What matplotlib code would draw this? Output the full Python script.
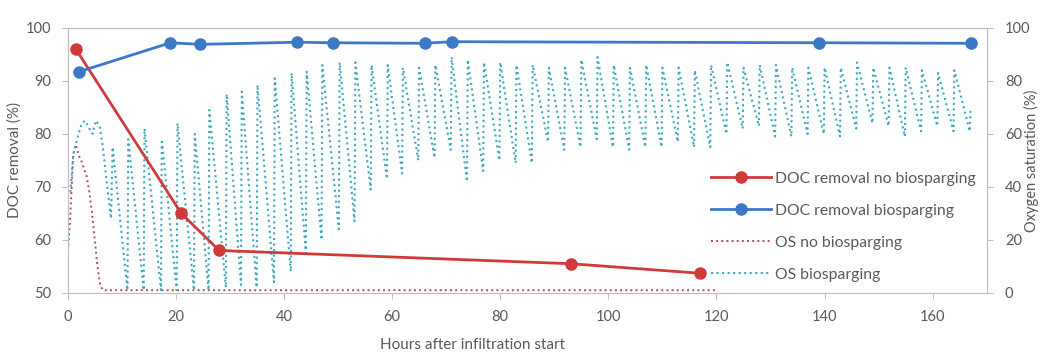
import numpy as np
import matplotlib
matplotlib.use("Agg")
import matplotlib.pyplot as plt

plt.rcParams["font.family"] = ["Lato", "DejaVu Sans"]

# DOC removal (%) sampled by hand, left axis
doc_no_bio_t = [1.5, 21, 28, 93, 117]
doc_no_bio = [96.0, 65.0, 58.0, 55.5, 53.7]
doc_bio_t = [2, 19, 24.5, 42.5, 49, 66, 71, 139, 167]
doc_bio = [91.7, 97.2, 96.9, 97.3, 97.2, 97.1, 97.4, 97.2, 97.1]

# oxygen saturation (%) without biosparging, right axis
os_no_bio_t = [0, 0.5, 1.0, 1.5, 2.0, 2.5, 3.0, 3.5, 4.0, 4.5, 5.0, 5.5, 6.0, 6.5, 120]
os_no_bio = [14, 30, 52, 56, 52, 50, 47, 44, 38, 30, 20, 10, 3, 1, 1]

# oxygen saturation with biosparging: start-up phase, then aeration cycles
os_bio_start_t = [0.5, 1.0, 2.0, 2.6, 3.2, 4.0, 4.6, 5.2, 5.9, 6.5, 7.2, 8.0]
os_bio_start = [38, 52, 60, 64, 65, 62, 60, 65, 63, 55, 42, 28]
cycle_t = [8.3, 11.2, 14.2, 17.4, 20.3, 23.5, 26.2, 29.4, 32.2, 35.1, 38.3, 41.4,
           44.2, 47.1, 50.3, 53.2, 56.2, 59.2, 62.0, 65.0, 68.0, 71.0, 74.0, 77.0,
           80.0, 83.0, 86.0, 89.0, 92.0, 95.0, 98.0, 101.0, 104.0, 107.0, 110.0,
           113.0, 116.0, 119.0, 122.0, 125.0, 128.0, 131.0, 134.0, 137.0, 140.0,
           143.0, 146.0, 149.0, 152.0, 155.0, 158.0, 161.0, 164.0]
cycle_peak = [55, 58, 62, 58, 64, 60, 69, 75, 76, 78.5, 81, 83, 83.5, 86, 87, 87,
              86, 86, 85, 85, 86, 89, 88, 87, 87, 86, 86, 85, 85, 88, 89, 86, 85,
              86, 85, 85, 84, 86, 87, 85, 86, 86, 85, 85, 85, 85, 87, 85, 85, 85,
              84, 83, 84]
cycle_low = [1, 1, 1, 1, 1, 1, 2, 3, 2, 4, 8, 15, 20, 24, 27, 39, 43, 45, 50, 51,
             54, 42, 46, 50, 49, 49, 57, 54, 55, 58, 55, 54, 55, 55, 57, 55, 55, 60,
             62, 63, 59, 59, 60, 60, 59, 62, 64, 63, 59, 61, 63, 61, 61]
os_bio_end_t = [167]
os_bio_end = [69]

# sawtooth: jump to the peak, then decay to the low just before the next jump
low_t = list(cycle_t[1:]) + os_bio_end_t
low_t = [t - 0.15 for t in low_t]
saw_t = np.column_stack([cycle_t, low_t]).ravel()
saw_v = np.column_stack([cycle_peak, cycle_low]).ravel()
os_bio_t = np.concatenate([os_bio_start_t, saw_t, os_bio_end_t])
os_bio = np.concatenate([os_bio_start, saw_v, os_bio_end])

red = "#d03a3a"
blue = "#3b78c6"
cyan = "#3ea8bf"
os_red = "#b04a63"
grey = "#595959"
spine = "#bfbfbf"

fig = plt.figure(figsize=(10.42, 3.58), dpi=100)
ax2 = fig.add_axes([0.065, 0.182, 0.882, 0.74])
ax = ax2.twinx()

# OS on the right axis, drawn underneath
ax2.yaxis.tick_right()
ax2.yaxis.set_label_position("right")
l3, = ax2.plot(os_no_bio_t, os_no_bio, ls=":", lw=1.4, color=os_red, label="OS no biosparging")
l4, = ax2.plot(os_bio_t, os_bio, ls=":", lw=1.5, color=cyan, label="OS biosparging")
ax2.set_ylim(0, 100)
ax2.set_yticks([0, 20, 40, 60, 80, 100])
ax2.set_ylabel("Oxygen saturation (%)", color=grey, fontsize=10.5)
ax2.yaxis.set_label_coords(1.04, 0.5)

# DOC removal on the left axis, on top
ax.yaxis.tick_left()
ax.yaxis.set_label_position("left")
l1, = ax.plot(doc_no_bio_t, doc_no_bio, "-o", color=red, lw=2, ms=8, label="DOC removal no biosparging")
l2, = ax.plot(doc_bio_t, doc_bio, "-o", color=blue, lw=2, ms=8, label="DOC removal biosparging")
ax.set_ylim(50, 100)
ax.set_yticks([50, 60, 70, 80, 90, 100])
ax.set_ylabel("DOC removal (%)", color=grey, fontsize=11, labelpad=3)
ax.set_xlim(0, 170)
ax2.set_xlim(0, 170)
ax2.set_xticks(range(0, 170, 20))
ax2.set_xlabel("Hours after infiltration start", color=grey, fontsize=11, labelpad=4)
ax2.xaxis.set_label_coords(0.44, -0.17)

for a in (ax, ax2):
    for s in a.spines.values():
        s.set_color(spine)
    a.tick_params(colors=spine, labelcolor=grey, labelsize=10.5, length=4, width=0.8)
ax.tick_params(axis="y", pad=8)
ax2.tick_params(axis="y", pad=9)
ax2.tick_params(axis="x", pad=8)

leg = ax.legend(handles=[l1, l2, l3, l4], loc="lower right", bbox_to_anchor=(1.0, 0.0),
                frameon=False, fontsize=11.3, labelspacing=1.15, handlelength=3.8,
                handletextpad=0.25, borderaxespad=0.3)
for t in leg.get_texts():
    t.set_color(grey)

fig.savefig("out.png", dpi=100)
